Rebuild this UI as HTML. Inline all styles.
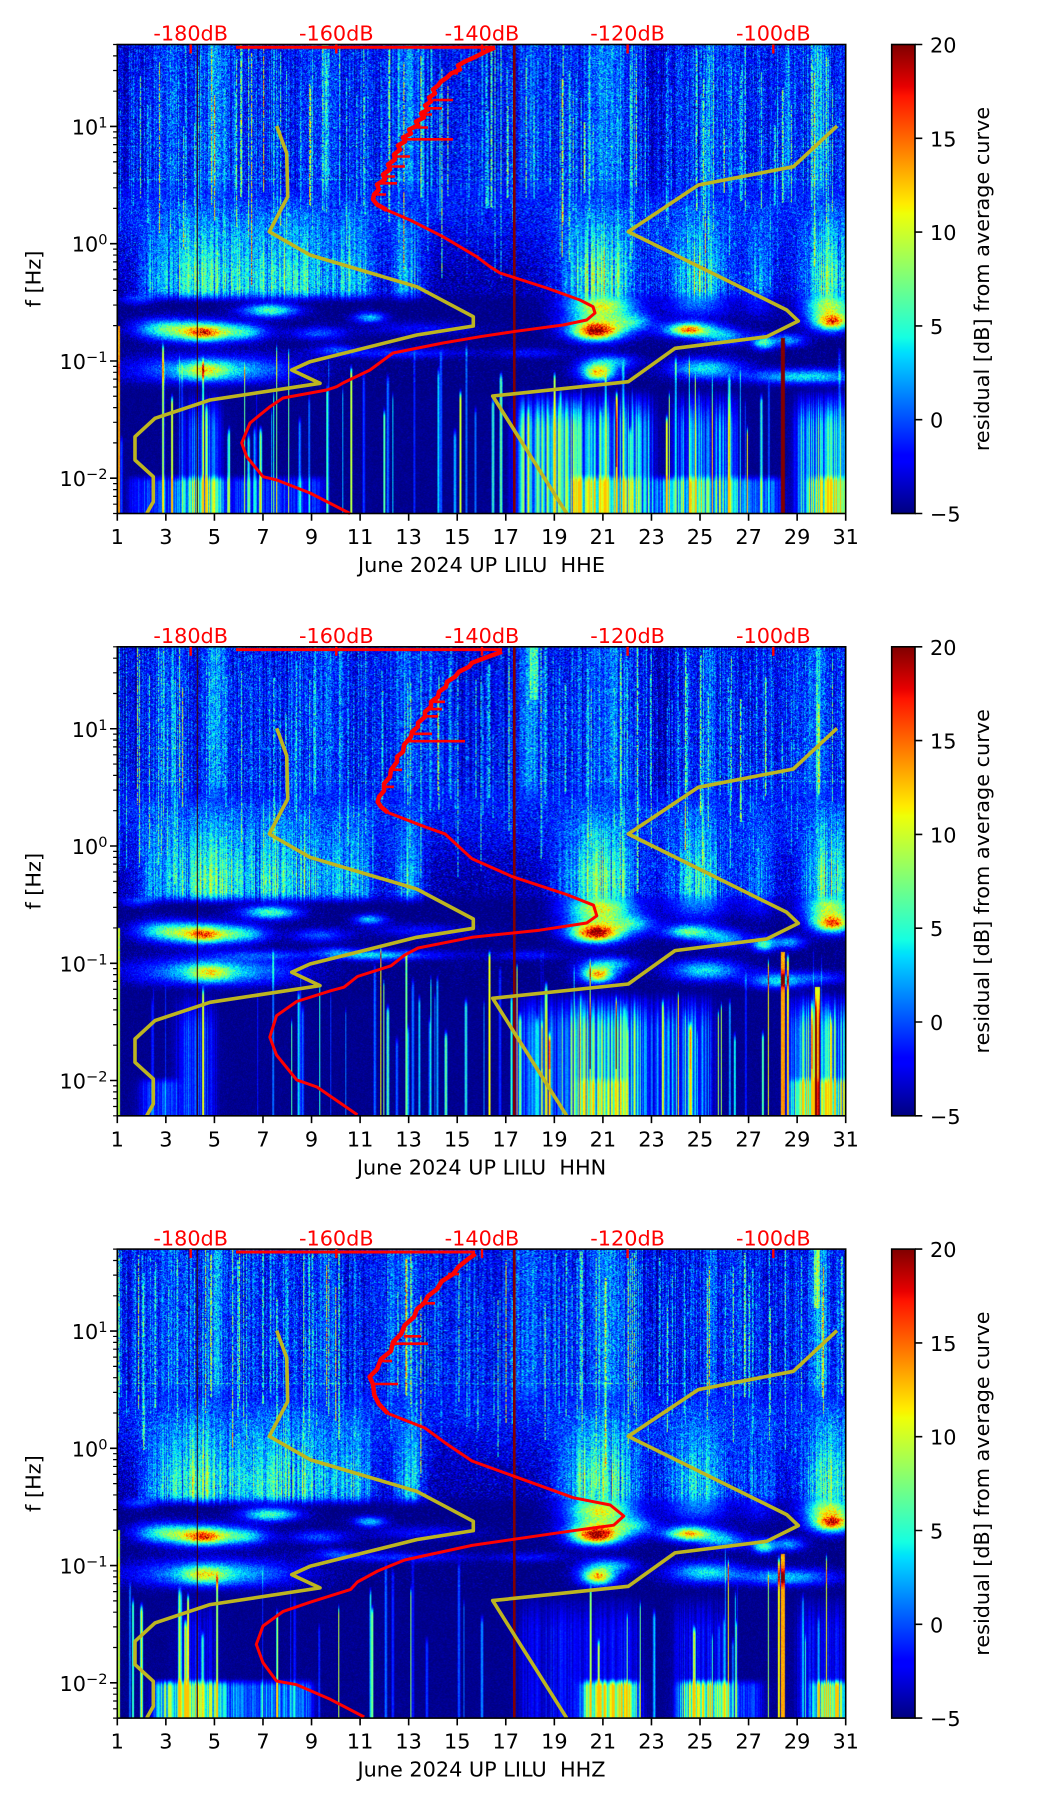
<!DOCTYPE html>
<html><head><meta charset="utf-8">
<style>
html,body{margin:0;padding:0;background:#fff;}
#fig{position:relative;width:1052px;height:1806px;overflow:hidden;background:#fff;}
canvas{position:absolute;left:117.3px;width:728.4px;height:469px;background:#1a3be0;}
svg{position:absolute;left:0;top:0;}
text{font-family:"DejaVu Sans","Liberation Sans",sans-serif;font-size:20.8px;fill:#000;}
.rl{fill:#ff0000;}
.cy{fill:none;stroke:#bdb520;stroke-width:3.6;stroke-linejoin:round;stroke-linecap:butt;}
.cr{fill:none;stroke:#ff0000;stroke-width:3;stroke-linejoin:round;}
.cr2{fill:none;stroke:#ff0000;stroke-width:4.5;stroke-linejoin:round;}
.crs{fill:none;stroke:#ff0000;stroke-width:2.6;}
</style></head><body><div id="fig">
<canvas id="c1" width="728" height="469" style="top:44.5px"></canvas>
<canvas id="c2" width="728" height="469" style="top:646.8px"></canvas>
<canvas id="c3" width="728" height="469" style="top:1249.1px"></canvas>
<svg width="1052" height="1806" viewBox="0 0 1052 1806">
<defs>
<linearGradient id="jet" x1="0" y1="1" x2="0" y2="0">
<stop offset="0" stop-color="#000080"/>
<stop offset="0.11" stop-color="#0000ff"/>
<stop offset="0.125" stop-color="#0000ff"/>
<stop offset="0.34" stop-color="#00dbff"/>
<stop offset="0.35" stop-color="#00e6f7"/>
<stop offset="0.375" stop-color="#15ffe2"/>
<stop offset="0.64" stop-color="#efff08"/>
<stop offset="0.65" stop-color="#f7f500"/>
<stop offset="0.66" stop-color="#ffec00"/>
<stop offset="0.89" stop-color="#ff1300"/>
<stop offset="0.91" stop-color="#e80000"/>
<stop offset="1" stop-color="#800000"/>
</linearGradient>
<g id="vl">
<rect x="513" y="0" width="2.6" height="469" fill="#800000"/>
<rect x="196.8" y="0" width="1" height="469" fill="#3a0000"/>
</g>
<g id="yc">
<polyline class="cy" points="276.7,81.5 286.7,108.8 287.7,152.2 269.3,187.2 310,210.5 416.7,242.2 473.3,272.2 473.3,281.5 416.7,290.5 310,317.2 291.7,325.5 320,338.8 210,355.5 155,373.8 135,392.2 135,415.5 153.3,432.2 153.3,457.2 146.7,469"/>
<polyline class="cy" points="837,81.5 793.3,122.2 698.3,140.5 628.3,187.2 786.7,265.5 798.3,276.5 766.7,292.2 675,303.8 628.3,337.2 492.7,351.5 566.7,469"/>
</g>
<g id="tk">
<rect x="117.3" y="0" width="728.4" height="469" fill="none" stroke="#000" stroke-width="1.6"/>
<path d="M110,81.96H117.3M110,199.2H117.3M110,316.5H117.3M110,433.7H117.3" stroke="#000" stroke-width="1.6"/>
<path d="M113.1,0H117.3M113.1,11.4H117.3M113.1,26H117.3M113.1,46.7H117.3M113.1,87.35H117.3M113.1,93.3H117.3M113.1,100.1H117.3M113.1,108H117.3M113.1,117.25H117.3M113.1,128.6H117.3M113.1,143.3H117.3M113.1,163.9H117.3M113.1,204.6H117.3M113.1,210.55H117.3M113.1,217.35H117.3M113.1,225.25H117.3M113.1,234.5H117.3M113.1,245.85H117.3M113.1,260.55H117.3M113.1,281.15H117.3M113.1,321.85H117.3M113.1,327.8H117.3M113.1,334.6H117.3M113.1,342.5H117.3M113.1,351.75H117.3M113.1,363.1H117.3M113.1,377.8H117.3M113.1,398.4H117.3M113.1,439.1H117.3M113.1,445.1H117.3M113.1,451.9H117.3M113.1,459.7H117.3M113.1,469H117.3" stroke="#000" stroke-width="1.2"/>
<path d="M117.3,469V476.3M165.86,469V476.3M214.42,469V476.3M262.98,469V476.3M311.54,469V476.3M360.1,469V476.3M408.66,469V476.3M457.22,469V476.3M505.78,469V476.3M554.34,469V476.3M602.9,469V476.3M651.46,469V476.3M700.02,469V476.3M748.58,469V476.3M797.14,469V476.3M845.7,469V476.3" stroke="#000" stroke-width="1.6"/>
<rect x="891.7" y="0" width="23.3" height="469" fill="url(#jet)" stroke="#000" stroke-width="1.6"/>
<path d="M915,0H922.3M915,93.8H922.3M915,187.6H922.3M915,281.4H922.3M915,375.2H922.3M915,469H922.3" stroke="#000" stroke-width="1.6"/>
<rect x="189.5" y="0" width="2.4" height="9" fill="#ff0000"/>
<rect x="335.1" y="0" width="2.4" height="9" fill="#ff0000"/>
<rect x="480.8" y="0" width="2.4" height="9" fill="#ff0000"/>
<rect x="626.4" y="0" width="2.4" height="9" fill="#ff0000"/>
<rect x="772.1" y="0" width="2.4" height="9" fill="#ff0000"/>
</g>
</defs>

<!-- PANEL 1 -->
<g transform="translate(0,44.5)">
<use href="#vl"/>
<use href="#yc"/>
<path class="cr" d="M236,2.8H495"/>
<path class="cr2" d="M495,3 L488,6 L482,9 L474,13 L465,17 L458,21 L460,25 L451,29 L447,33 L441,37 L438,41 L433,45 L435,49 L429,53 L431,57 L425,61 L428,65 L421,69 L424,73 L416,77 L418,81 L409,85 L411,89 L403,93 L405,97 L398,101 L400,105 L394,110 L395,115 L388,120 L390,125 L383,130 L385,135 L377,140 L379,145 L374,150 L373,155 L377,160 L386.7,165.5"/>
<path class="crs" d="M433,55.5H453M428,63.8H442M405,94.8H453M451,28.8H458M380,138.8H397M386,132H395M421,70H432M414,83H428M396,112H410M390,122H405M375,150H386"/>
<path class="cr" d="M386.7,165.5 L410,175.5 L443,192.2 L476.7,212.2 L490,222.2 L500,228.5 L546.7,243.5 L580,255.5 L593,262.2 L595,268.5 L586.7,275.5 L563,280.5 L513,287.2 L480,292.2 L443,298.5 L393,308.5 L370,325.5 L343,338.5 L336.7,342.2 L326.7,345.5 L283,353.5 L270,362.2 L250,378.5 L241.7,398.5 L246.7,412.2 L263,432.2 L276.7,435.5 L310,448.5 L350,469"/>
<use href="#tk"/>
<text class="rl" x="190.7" y="-3.8" text-anchor="middle">-180dB</text>
<text class="rl" x="336.3" y="-3.8" text-anchor="middle">-160dB</text>
<text class="rl" x="482" y="-3.8" text-anchor="middle">-140dB</text>
<text class="rl" x="627.6" y="-3.8" text-anchor="middle">-120dB</text>
<text class="rl" x="773.3" y="-3.8" text-anchor="middle">-100dB</text>
<text x="107.5" y="90" text-anchor="end">10<tspan font-size="14.6" dy="-7">1</tspan></text>
<text x="107.5" y="207.2" text-anchor="end">10<tspan font-size="14.6" dy="-7">0</tspan></text>
<text x="107.5" y="324.5" text-anchor="end">10<tspan font-size="14.6" dy="-7">−1</tspan></text>
<text x="107.5" y="441.7" text-anchor="end">10<tspan font-size="14.6" dy="-7">−2</tspan></text>
<g text-anchor="middle">
<text x="117.3" y="499.5">1</text><text x="165.86" y="499.5">3</text><text x="214.42" y="499.5">5</text><text x="262.98" y="499.5">7</text><text x="311.54" y="499.5">9</text><text x="360.1" y="499.5">11</text><text x="408.66" y="499.5">13</text><text x="457.22" y="499.5">15</text><text x="505.78" y="499.5">17</text><text x="554.34" y="499.5">19</text><text x="602.9" y="499.5">21</text><text x="651.46" y="499.5">23</text><text x="700.02" y="499.5">25</text><text x="748.58" y="499.5">27</text><text x="797.14" y="499.5">29</text><text x="845.7" y="499.5">31</text>
</g>
<text x="481.5" y="527.5" text-anchor="middle">June 2024 UP LILU&#160; HHE</text>
<text transform="translate(33.5,234.5) rotate(-90)" text-anchor="middle" dominant-baseline="central">f [Hz]</text>
<text x="930" y="8">20</text><text x="930" y="101.8">15</text><text x="930" y="195.6">10</text><text x="930" y="289.4">5</text><text x="930" y="383.2">0</text><text x="930" y="477">−5</text>
<text transform="translate(982,234.5) rotate(-90)" text-anchor="middle" dominant-baseline="central">residual [dB] from average curve</text>
</g>

<!-- PANEL 2 -->
<g transform="translate(0,646.8)">
<use href="#vl"/>
<use href="#yc"/>
<path class="cr" d="M236,2.8H502"/>
<path class="cr2" d="M502,5 L488,10 L472,16 L469,20 L459,25 L455,30 L447,35 L446,40 L439,45 L438,50 L431,55 L431,60 L425,65 L425,70 L418,76 L418,80 L412,85 L411,90 L404,98 L403,105 L397,110 L397,115 L391,123 L390,130 L384,137 L384,144 L379,150 L377.7,155 L381,160 L387.8,165.7"/>
<path class="crs" d="M406,94.4H465M431,55H445M427,62.3H442M424,69.5H438M414,87H432M392,123H402M385,140H394"/>
<path class="cr" d="M387.8,165.7 L424.9,180 L445,187.1 L472,212 L512.5,229.9 L566.5,247.7 L593.5,258.4 L596.8,269 L586.7,276.2 L539.5,283.4 L472,290.5 L418,301.2 L404.6,308.3 L391,319 L357.4,329.7 L344,340.4 L330.5,344 L296.7,354.7 L276.5,368.9 L269.8,390.3 L276.5,408.2 L296.7,433.1 L317,440.2 L357.4,468"/>
<use href="#tk"/>
<text class="rl" x="190.7" y="-3.8" text-anchor="middle">-180dB</text>
<text class="rl" x="336.3" y="-3.8" text-anchor="middle">-160dB</text>
<text class="rl" x="482" y="-3.8" text-anchor="middle">-140dB</text>
<text class="rl" x="627.6" y="-3.8" text-anchor="middle">-120dB</text>
<text class="rl" x="773.3" y="-3.8" text-anchor="middle">-100dB</text>
<text x="107.5" y="90" text-anchor="end">10<tspan font-size="14.6" dy="-7">1</tspan></text>
<text x="107.5" y="207.2" text-anchor="end">10<tspan font-size="14.6" dy="-7">0</tspan></text>
<text x="107.5" y="324.5" text-anchor="end">10<tspan font-size="14.6" dy="-7">−1</tspan></text>
<text x="107.5" y="441.7" text-anchor="end">10<tspan font-size="14.6" dy="-7">−2</tspan></text>
<g text-anchor="middle">
<text x="117.3" y="499.5">1</text><text x="165.86" y="499.5">3</text><text x="214.42" y="499.5">5</text><text x="262.98" y="499.5">7</text><text x="311.54" y="499.5">9</text><text x="360.1" y="499.5">11</text><text x="408.66" y="499.5">13</text><text x="457.22" y="499.5">15</text><text x="505.78" y="499.5">17</text><text x="554.34" y="499.5">19</text><text x="602.9" y="499.5">21</text><text x="651.46" y="499.5">23</text><text x="700.02" y="499.5">25</text><text x="748.58" y="499.5">27</text><text x="797.14" y="499.5">29</text><text x="845.7" y="499.5">31</text>
</g>
<text x="481.5" y="527.5" text-anchor="middle">June 2024 UP LILU&#160; HHN</text>
<text transform="translate(33.5,234.5) rotate(-90)" text-anchor="middle" dominant-baseline="central">f [Hz]</text>
<text x="930" y="8">20</text><text x="930" y="101.8">15</text><text x="930" y="195.6">10</text><text x="930" y="289.4">5</text><text x="930" y="383.2">0</text><text x="930" y="477">−5</text>
<text transform="translate(982,234.5) rotate(-90)" text-anchor="middle" dominant-baseline="central">residual [dB] from average curve</text>
</g>

<!-- PANEL 3 -->
<g transform="translate(0,1249.1)">
<use href="#vl"/>
<use href="#yc"/>
<path class="cr" d="M236,2.9H475"/>
<path class="cr2" d="M475.5,4.7 L468,10 L458.6,17.6 L453,25 L441.7,32.2 L437,40 L428,47 L424,54.2 L417,60 L414,68 L404.6,76.2 L401,85 L393,93 L391,101.9 L381,110 L377,120.2 L369.6,127.6 L373,135 L374.3,145.9 L379,155 L387.8,164.3"/>
<path class="crs" d="M421,54.2H435M391,94.6H428M372,134.9H398M404,87.2H421M448,25H459M380,112H392"/>
<path class="cr" d="M387.8,164.3 L424.9,178.9 L445,193.6 L472,211.9 L512.5,226.6 L573.2,248.6 L610.3,255.9 L623.8,266.9 L613.7,276.1 L573.2,281.6 L472,296.3 L404.6,310.9 L377.7,321.9 L357.4,332.9 L350.7,340.3 L310.2,353.1 L283.2,362.3 L263,376.9 L256.3,395.3 L263,413.6 L276.5,431.9 L296.7,435.6 L330.5,450.3 L364.2,467.9"/>
<use href="#tk"/>
<text class="rl" x="190.7" y="-3.8" text-anchor="middle">-180dB</text>
<text class="rl" x="336.3" y="-3.8" text-anchor="middle">-160dB</text>
<text class="rl" x="482" y="-3.8" text-anchor="middle">-140dB</text>
<text class="rl" x="627.6" y="-3.8" text-anchor="middle">-120dB</text>
<text class="rl" x="773.3" y="-3.8" text-anchor="middle">-100dB</text>
<text x="107.5" y="90" text-anchor="end">10<tspan font-size="14.6" dy="-7">1</tspan></text>
<text x="107.5" y="207.2" text-anchor="end">10<tspan font-size="14.6" dy="-7">0</tspan></text>
<text x="107.5" y="324.5" text-anchor="end">10<tspan font-size="14.6" dy="-7">−1</tspan></text>
<text x="107.5" y="441.7" text-anchor="end">10<tspan font-size="14.6" dy="-7">−2</tspan></text>
<g text-anchor="middle">
<text x="117.3" y="499.5">1</text><text x="165.86" y="499.5">3</text><text x="214.42" y="499.5">5</text><text x="262.98" y="499.5">7</text><text x="311.54" y="499.5">9</text><text x="360.1" y="499.5">11</text><text x="408.66" y="499.5">13</text><text x="457.22" y="499.5">15</text><text x="505.78" y="499.5">17</text><text x="554.34" y="499.5">19</text><text x="602.9" y="499.5">21</text><text x="651.46" y="499.5">23</text><text x="700.02" y="499.5">25</text><text x="748.58" y="499.5">27</text><text x="797.14" y="499.5">29</text><text x="845.7" y="499.5">31</text>
</g>
<text x="481.5" y="527.5" text-anchor="middle">June 2024 UP LILU&#160; HHZ</text>
<text transform="translate(33.5,234.5) rotate(-90)" text-anchor="middle" dominant-baseline="central">f [Hz]</text>
<text x="930" y="8">20</text><text x="930" y="101.8">15</text><text x="930" y="195.6">10</text><text x="930" y="289.4">5</text><text x="930" y="383.2">0</text><text x="930" y="477">−5</text>
<text transform="translate(982,234.5) rotate(-90)" text-anchor="middle" dominant-baseline="central">residual [dB] from average curve</text>
</g>
</svg>
</div>
<script>
(function(){
const JS=[[0,0,0,.5],[.11,0,0,1],[.125,0,0,1],[.34,0,.86,1],[.35,0,.9,.968],[.375,.081,1,.887],[.64,.935,1,.032],[.65,.968,.963,0],[.66,1,.926,0],[.89,1,.074,0],[.91,.909,0,0],[1,.5,0,0]];
const LUT=new Uint8Array(256*3);
for(let i=0;i<256;i++){const t=i/255;let k=0;while(k<JS.length-2&&JS[k+1][0]<t)k++;const a=JS[k],b=JS[k+1];let f=(t-a[0])/(b[0]-a[0]);f=f<0?0:f>1?1:f;for(let c=0;c<3;c++)LUT[i*3+c]=Math.round(255*(a[c+1]+(b[c+1]-a[c+1])*f));}
function sm(a,b,x){let t=(x-a)/(b-a);t=t<0?0:t>1?1:t;return t*t*(3-2*t);}
function G(x,m,s){const z=(x-m)/s;return Math.exp(-0.5*z*z);}
function sumG(A,d){let s=0;for(const g of A)s+=g[2]*G(d,g[0],g[1]);return s;}
function seg(d,a,b,s){return 1/(1+Math.exp(-(d-a)/s))/(1+Math.exp((d-b)/s));}
function sumS(A,d){let s=0;for(const g of A)s+=g[2]*seg(d,g[0],g[1],0.12);return s;}

const B1=[
[4.6,-0.76,7,0.45,0.035],[4.5,-0.745,15,1.0,0.06],[2.8,-0.72,8,0.8,0.06],[6.3,-0.75,7,0.7,0.05],
[7.3,-0.565,11,0.8,0.04],[9.3,-0.76,5,0.8,0.04],[11.4,-0.625,8,0.45,0.03],[13.5,-0.72,3,1.5,0.04],
[20.9,-0.55,7,0.9,0.08],[20.8,-0.72,14,0.9,0.07],[20.7,-0.75,12,0.55,0.045],[22.3,-0.66,6,0.6,0.05],
[24.6,-0.73,12,0.8,0.045],[24.5,-0.73,8,0.4,0.03],[26.0,-0.79,7,0.7,0.05],[27.6,-0.84,10,0.3,0.04],
[28.6,-0.82,7,0.5,0.04],[30.3,-0.52,6,0.6,0.08],[30.4,-0.66,13,0.6,0.06],[30.5,-0.66,6,0.35,0.035],
[5.0,-1.07,9,2.2,0.08],[4.6,-1.08,8,0.6,0.05],[20.8,-1.07,10,0.6,0.07],[20.8,-1.1,9,0.35,0.04],
[21.6,-1.0,5,0.6,0.04],[25.2,-1.06,9,1.0,0.06],[29.3,-1.13,9,1.6,0.045],[12.5,-0.93,4,2.0,0.03],[18,-0.93,3,1.0,0.03],
[1.8,-0.45,6,0.5,0.04],[10,-0.9,4,0.6,0.03]];
const B2=B1.map(b=>b.slice());
B2[12][2]=9;B2[13][2]=3;B2[26]=[28.2,-1.15,9,0.8,0.05];B2.push([30,-1.12,4,0.8,0.04]);B2[0][2]=6;B2[21][0]=4.8;B2.push([11.5,-0.93,5,1.0,0.03]);B2.push([7,-0.93,4,1.5,0.03]);
const B3=B1.map(b=>b.slice());
B3[13][2]=6;B3[26]=[28.6,-1.1,8,1.3,0.05];B3[18][1]=-0.64;B3[19][1]=-0.64;

const TOP1=[[5.1,0.25,3.5],[12.9,0.3,2.5],[21.3,0.55,2.5],[29.9,0.25,4],[25.4,0.15,2.5],[18.1,0.3,1.5],[3.3,0.3,1.5],[9.6,0.3,1.5],[23.3,0.6,-1.5],[16,1.2,-0.8],[1.4,0.4,-1.2],[10.8,0.4,-0.8]];
const PL1=[[4.6,1.4,12.5],[8.2,1.3,11],[10.8,0.7,7.5],[13,0.45,9],[16.5,1.0,0.5],[20.9,1.1,14],[24.9,0.9,11],[27.4,0.6,6],[30.3,0.8,12.5],[2.6,0.5,4]];
const PB=[[20.9,1.0,9],[24.9,0.9,6],[30.3,0.8,8],[27.4,0.5,3]];

const P1={ub:-1.2,pTop:0.22,pLow:0.10,top:TOP1,plume:PL1,pband:PB,blobs:B1,
 low:[[17.4,20,11],[20,23,9],[24,26.5,7],[29,31,10],[3.8,5.2,6]],
 strip:[[1.6,3.6,4],[3.6,5.3,7],[5.3,9.5,3.5],[19.8,22.3,7],[22.3,23.1,2],[23.1,25.8,6],[26,28.3,5],[29.5,31,7]],
 spec:[[664.5,2,-2.4,-0.8,26],[1,1.5,-2.4,-0.7,18]],hl:[[0.548,3],[0.83,2]]};
const P2={ub:-1.6,pTop:0.22,pLow:0.10,top:TOP1.concat([[17.95,0.25,2]]),plume:PL1,pband:PB,blobs:B2,
 low:[[19.3,22.8,12],[17.5,19.3,6],[23,25.5,7],[28.8,31,11],[3.5,5,5]],
 strip:[[2,3.5,4],[20,22,4],[28.8,31,7]],
 spec:[[664.5,1.5,-2.4,-0.9,18],[698.7,2.5,-2.4,-1.2,15],[1,1.5,-2.4,-0.7,14],[416,4,1.25,1.8,5]],hl:[[0.548,3],[0.83,2]]};
const P3={ub:-1.3,pTop:0.22,pLow:0.07,top:TOP1,plume:PL1.map((p,i)=>i==5?[20.9,1.1,14.5]:p),pband:PB,blobs:B3,
 low:[[17.5,22.5,3],[24,26,3],[29,31,3],[3.5,5,3]],
 strip:[[2.6,5.3,10],[5.3,9,6],[20.2,22.4,12],[24.2,26.2,10],[26.2,27.5,4],[29.7,31,12]],
 spec:[[664.5,1.5,-2.4,-0.9,18],[1,1.5,-2.4,-0.7,14],[698.5,3,1.2,1.8,6]],hl:[[0.548,4],[0.83,2]]};

function render(id,P,seed){
 const cv=document.getElementById(id);if(!cv||!cv.getContext)return;
 const W=cv.width,H=cv.height,ctx=cv.getContext('2d'),img=ctx.createImageData(W,H),D=img.data;
 let s=seed>>>0;
 const R=()=>{s^=s<<13;s>>>=0;s^=s>>>17;s^=s<<5;s>>>=0;return s/4294967296;};
 const N=()=>(R()+R()+R()+R()-2)*1.732;
 const dd=new Float32Array(W),cn=new Float32Array(W),cf=new Float32Array(W),cf2=new Float32Array(W);
 const top=new Float32Array(W),plu=new Float32Array(W),pb=new Float32Array(W),low=new Float32Array(W),strip=new Float32Array(W);
 const tA=new Float32Array(W),tTop=new Float32Array(W),tBot=new Float32Array(W),lA=new Float32Array(W),lTop=new Float32Array(W);
 const spF=new Uint8Array(W);
 for(let x=0;x<W;x++){
  const d=1+(x+0.5)/W*30;dd[x]=d;
  cn[x]=N();cf[x]=0.2+1.1*R();cf2[x]=N();
  top[x]=sumG(P.top,d);plu[x]=sumG(P.plume,d);pb[x]=sumG(P.pband,d);low[x]=sumS(P.low,d);strip[x]=sumS(P.strip,d);
 }
 for(let x=0;x<W;x++){
  if(R()<P.pTop){
   const a=2+12*R()*R(),t=1.75-R()*R()*0.9,b=0.45-R()*R()*1.0,w=R()<0.2?2:1;
   for(let k=0;k<w;k++){const xx=x+k,aa=a*(k?0.7:1);if(xx<W&&aa>tA[xx]){tA[xx]=aa;tTop[xx]=t;tBot[xx]=b;}}
  }
 }
 for(let x=0;x<W;x++){
  if(R()<P.pLow){
   const a=3+13*Math.pow(R(),1.5),t=-0.8-R()*0.8,w=1+Math.floor(R()*3);
   for(let k=0;k<w;k++){const xx=x+k;const aa=a*((w>2&&(k==0||k==w-1))?0.6:1);if(xx<W&&aa>lA[xx]){lA[xx]=aa;lTop[xx]=t;}}
  }
 }
 for(const q of P.spec){for(let x=Math.max(0,Math.floor(q[0]-q[1]));x<=Math.min(W-1,Math.ceil(q[0]+q[1]));x++)spF[x]=1;}
 for(let y=0;y<H;y++){
  const L=1.699-(y+0.5)/H*4;
  const wU=sm(0.3,0.6,L),pS=Math.min(1,Math.max(0,(0.45-L)/0.7));
  const baseM=-1.5-3*sm(0.4,-0.4,L);
  const wB=sm(-0.38,-0.52,L),wL=sm(-1.15,-1.32,L);
  const lowS=sm(-1.15,-1.6,L),stS=sm(-1.95,-2.04,L);
  const cap=L<-1.9?12.5:99;
  const pbL=G(L,-0.5,0.09);
  let hlA=0;for(const h of P.hl)if(Math.abs(L-h[0])<0.0045)hlA=h[1];
  const rb=[];for(const b of P.blobs){const f=G(L,b[1],b[4]);if(f>0.005)rb.push(b[0],b[3],b[2]*f);}
  for(let x=0;x<W;x++){
   const d=dd[x];
   let v1=0,v2=0;
   if(wB<1){
    const vu=P.ub+cn[x]+top[x]+1.8*N();
    const vm=baseM+plu[x]*pS*(0.8+0.2*cf2[x])+1.6*N();
    v1=wU*vu+(1-wU)*vm;
    if(tA[x]>0&&L<tTop[x]&&L>tBot[x]&&R()<0.85)v1+=tA[x]*(0.6+0.6*R());
    if(hlA&&R()<0.55)v1+=hlA;
   }
   if(wB>0){
    let bs=pb[x]*pbL;
    for(let k=0;k<rb.length;k+=3){const z=(d-rb[k])/rb[k+1];if(z>-4&&z<4)bs+=rb[k+2]*Math.exp(-0.5*z*z);}
    const vb=-5+0.7*N()+bs*(0.85+0.3*R());
    const vl=-4.7+low[x]*cf[x]*lowS+strip[x]*stS*(0.4+0.8*cf[x])+0.3*N();
    v2=(1-wL)*vb+wL*vl;
   }
   let v=(1-wB)*v1+wB*v2;
   if(lA[x]>0&&L<lTop[x])v+=lA[x]*sm(lTop[x],lTop[x]-0.12,L);
   if(v>cap)v=cap;
   if(spF[x])for(const q of P.spec){if(Math.abs(x-q[0])<=q[1]&&L>=q[2]&&L<=q[3])v+=q[4]*(q[2]>0?(0.6+0.6*R()):1);}
   let t=(v+5)/25;t=t<0?0:t>1?1:t;const i=(t*255+0.5)|0;
   const o=(y*W+x)*4;D[o]=LUT[i*3];D[o+1]=LUT[i*3+1];D[o+2]=LUT[i*3+2];D[o+3]=255;
  }
 }
 ctx.putImageData(img,0,0);
}
render('c1',P1,12345);
render('c2',P2,67891);
render('c3',P3,24681);
})();
</script>
</body></html>
